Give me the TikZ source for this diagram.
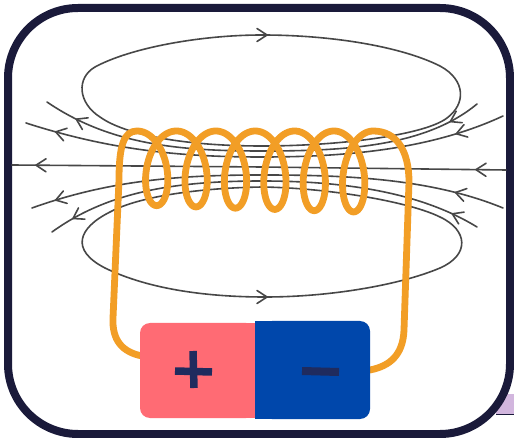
\documentclass[tikz,border=0pt]{standalone}
\usetikzlibrary{decorations.markings}
\definecolor{framec}{HTML}{1A1A3A}
\definecolor{wirec}{HTML}{F29E26}
\definecolor{fieldc}{HTML}{474747}
\definecolor{plusc}{HTML}{FF6B74}
\definecolor{minusc}{HTML}{0047AB}
\definecolor{signc}{HTML}{1F2B5E}
\definecolor{shadowc}{HTML}{D2B6DE}
\begin{document}
\begin{tikzpicture}[x=1pt,y=-1pt,
  fld/.style={draw=fieldc, line width=1.6pt, line cap=round, line join=round},
  arrowto/.style={postaction={decorate, decoration={markings,
      mark=at position #1 with {\draw[fld] (-10,-6.5) -- (0,0) -- (-10,6.5);}}}},
  vee/.pic={\draw[fld] (-10,-6.5) -- (0,0) -- (-10,6.5);},
  coil/.style={draw=wirec, line width=6.8pt, line cap=round, line join=round},
  sign/.style={draw=signc, line width=7.5pt}]
\useasboundingbox (0,0) rectangle (514,438);

% shadow card peeking out behind the frame
\fill[shadowc] (496,394) rectangle (514,414);
\draw[framec, line width=1pt] (496,414.5) -- (514,414.5);

% frame
\draw[framec, line width=8pt, fill=white, rounded corners=70pt] (8,8) rectangle (510,434);

% closed field loop above the coil
\draw[fld] (262,146) .. controls (185,146) and (125,135) .. (100,117)
  .. controls (78,103) and (76,78) .. (95,67)
  .. controls (130,48) and (200,35) .. (262,35)
  .. controls (330,35) and (400,46) .. (440,66)
  .. controls (466,80) and (466,104) .. (447,118)
  .. controls (425,135) and (340,146) .. (262,146);
\pic at (267,35) {vee};

% closed field loop below the coil
\draw[fld] (262,187) .. controls (200,188) and (140,196) .. (110,212)
  .. controls (78,228) and (70,250) .. (105,268)
  .. controls (150,290) and (210,297) .. (265,297)
  .. controls (330,297) and (400,285) .. (440,268)
  .. controls (470,255) and (468,230) .. (440,217)
  .. controls (410,202) and (330,188) .. (262,187);
\pic at (267,297) {vee};

% open field lines, left side (leaving the coil)
\draw[fld, arrowto=-34pt] (262,151) .. controls (180,151) and (110,145) .. (47,102);
\draw[fld, arrowto=-31pt] (262,157) .. controls (180,157) and (110,150) .. (26,123);
\draw[fld, arrowto=-24pt] (262,167) -- (12,165);
\draw[fld, arrowto=-25pt] (262,175) .. controls (180,175) and (110,180) .. (32,208);
\draw[fld, arrowto=-25pt] (262,181) .. controls (180,181) and (110,190) .. (52,232);

% open field lines, right side (entering the coil)
\draw[fld, arrowto=32pt] (477,104) .. controls (425,147) and (344,151) .. (262,151);
\draw[fld, arrowto=50pt] (503,116) .. controls (430,150) and (344,157) .. (262,157);
\draw[fld, arrowto=30pt] (506,170) -- (262,167);
\draw[fld, arrowto=50pt] (503,208) .. controls (430,178) and (344,175) .. (262,175);
\draw[fld, arrowto=28pt] (477,227) .. controls (420,192) and (344,181) .. (262,181);

% terminals
\coordinate (pos) at (142,356);
\coordinate (neg) at (370,370);

% wire and coil
\draw[coil] (pos) .. controls (122,352) and (112,340) .. (113,318)
  -- (119,180) .. controls (119,145) and (124,131) .. (137,131)
  -- plot[domain=0:12*pi, samples=600, variable=\t]
     ({137+6.27*\t+20*sin(\t r)}, {168+0.1*\t-(37+0.1*\t)*cos(\t r)})
  .. controls (396,131) and (409,150) .. (409,182)
  -- (404,330) .. controls (403,355) and (390,366) .. (neg);

% battery
\fill[plusc, rounded corners=10pt] (140,323) rectangle (256,418);
\fill[plusc] (200,323) rectangle (256,418);
\fill[minusc, rounded corners=10pt] (262,321) rectangle (370,419);
\fill[minusc] (255,321) rectangle (300,419);
\draw[sign] (193,351) -- (194,388);
\draw[sign] (175,371) -- (212,372);
\draw[sign, line width=8pt] (302,371) -- (339,372);
\end{tikzpicture}
\end{document}
